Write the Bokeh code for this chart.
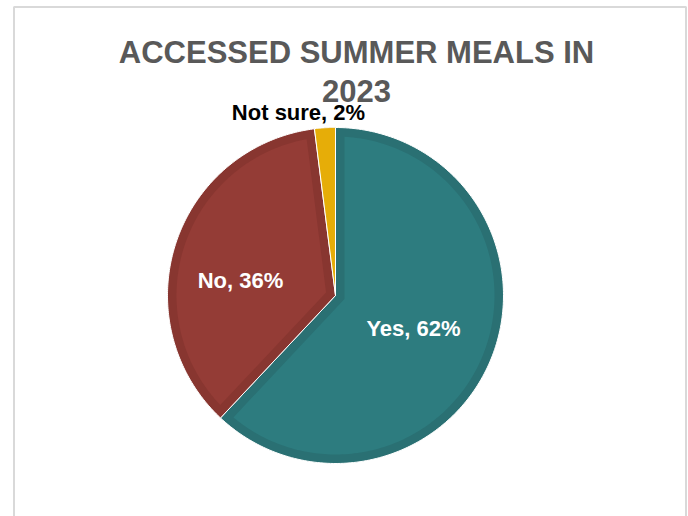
import numpy as np
from bokeh.plotting import figure
from bokeh.models import Range1d
from bokeh.core.properties import value
from bokeh.embed import file_html
from bokeh.resources import INLINE

# ---- data ----
categories = ["Yes", "No", "Not sure"]
shares = [62, 36, 2]
label_texts = ["Yes, 62%", "No, 36%", "Not sure, 2%"]
fill_colors = ["#2D7C7F", "#943C36", "#E6AD08"]
band_colors = ["#2A7073", "#883630", "#E6AD08"]
label_colors = ["white", "white", "black"]
title_lines = ["ACCESSED SUMMER MEALS IN", "2023"]

W, H = 688, 516
p = figure(width=W, height=H, output_backend="svg", toolbar_location=None,
           x_range=Range1d(0, W), y_range=Range1d(0, H),
           x_axis_location=None, y_axis_location=None, min_border=0,
           background_fill_color="white", border_fill_color="white")
p.grid.visible = False
p.outline_line_color = None

# chart border
p.multi_line(xs=[[13.5, 13.5, 685.5, 685.5]], ys=[[-10, 509.5, 509.5, -10]],
             line_color="#D9D9D9", line_width=2)

cx, cy, R, d = 335.0, 221.0, 168.0, 9.0
vals = np.array(shares, dtype=float)
frac = vals / vals.sum()
ends = np.pi / 2 - 2 * np.pi * np.cumsum(frac)
starts = np.concatenate([[np.pi / 2], ends[:-1]])

outer_x, outer_y, inner_x, inner_y, inner_c = [], [], [], [], []
for a0, a1 in zip(starts, ends):
    t = np.linspace(a0, a1, 200)
    outer_x.append(list(np.concatenate([[cx], cx + R * np.cos(t)])))
    outer_y.append(list(np.concatenate([[cy], cy + R * np.sin(t)])))
for a0, a1, col in zip(starts, ends, fill_colors):
    span = a0 - a1
    rho = R - d
    dphi = np.arcsin(d / rho)
    apex_dist = d / np.sin(span / 2)
    if span - 2 * dphi <= 0 or apex_dist > rho * 0.8:
        continue
    mid = (a0 + a1) / 2
    t = np.linspace(a0 - dphi, a1 + dphi, 200)
    ax_, ay_ = cx + apex_dist * np.cos(mid), cy + apex_dist * np.sin(mid)
    inner_x.append(list(np.concatenate([[ax_], cx + rho * np.cos(t)])))
    inner_y.append(list(np.concatenate([[ay_], cy + rho * np.sin(t)])))
    inner_c.append(col)

p.patches(outer_x, outer_y, fill_color=band_colors, line_color="white", line_width=1)
p.patches(inner_x, inner_y, fill_color=inner_c, line_color=None)

# data labels
lab_x = [413, 240, 298]
lab_y = [188, 236, 404]
p.text(x=lab_x, y=lab_y, text=label_texts, text_color=label_colors,
       text_font=value("Liberation Sans"), text_font_style="bold",
       text_font_size="22px", text_align="center", text_baseline="alphabetic")

# title
p.text(x=[356, 356], y=[464, 426], text=title_lines, text_color="#595959",
       text_font=value("Liberation Sans"), text_font_style="bold",
       text_font_size="31px", text_align="center", text_baseline="alphabetic")

open("out.html", "w").write(file_html(p, INLINE))
